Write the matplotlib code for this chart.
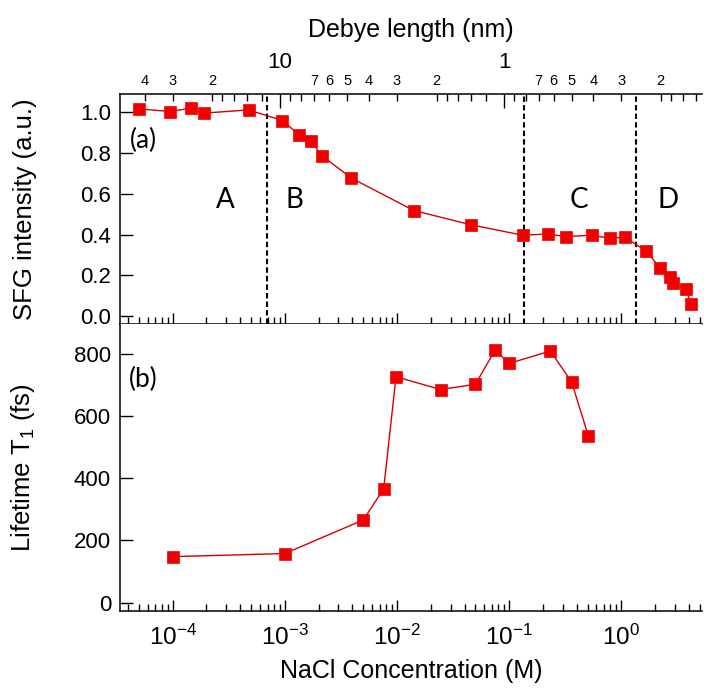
import numpy as np
import matplotlib
matplotlib.use('Agg')
import matplotlib.pyplot as plt
from matplotlib import ticker
from matplotlib.transforms import blended_transform_factory

plt.rcParams['font.family'] = ['Liberation Sans', 'DejaVu Sans']
plt.rcParams['mathtext.fontset'] = 'custom'
plt.rcParams['mathtext.rm'] = 'Liberation Sans'
plt.rcParams['mathtext.it'] = 'Liberation Sans:italic'
plt.rcParams['mathtext.default'] = 'regular'

# (a) SFG intensity vs NaCl concentration (M)
conc_sfg = [5.0e-5, 9.5e-5, 1.46e-4, 1.89e-4, 4.75e-4, 9.5e-4, 1.34e-3, 1.71e-3,
            2.14e-3, 3.92e-3, 0.0141, 0.0457, 0.132, 0.221, 0.321, 0.545, 0.793,
            1.08, 1.66, 2.21, 2.72, 2.87, 3.78, 4.16]
sfg = [1.016, 1.003, 1.020, 0.995, 1.011, 0.959, 0.889, 0.860, 0.786, 0.677,
       0.518, 0.448, 0.397, 0.403, 0.390, 0.397, 0.382, 0.387, 0.320, 0.238,
       0.191, 0.162, 0.134, 0.059]

# (b) vibrational lifetime T1 (fs)
conc_t1 = [1e-4, 1e-3, 5e-3, 7.6e-3, 9.8e-3, 0.0245, 0.05, 0.075, 0.1, 0.233, 0.36, 0.51]
t1 = [148, 158, 266, 366, 727, 686, 703, 813, 770, 810, 711, 535]

# regions A-D
region_bounds = [6.9e-4, 0.1355, 1.36]
region_names = ['A', 'B', 'C', 'D']
region_label_conc = [2.97e-4, 1.21e-3, 0.42, 2.61]

# top axis: Debye length (nm)
debye_major = [10, 1]
debye_major_labels = ['10', '1']
debye_minor = [40, 30, 20, 18, 16, 14, 12, 9, 8, 7, 6, 5, 4, 3, 2,
               1.8, 1.6, 1.4, 1.2, 0.9, 0.8, 0.7, 0.6, 0.5, 0.4, 0.3, 0.2,
               0.18, 0.16, 0.14]
debye_minor_labels = ['4', '3', '2', '', '', '', '', '', '', '7', '6', '5', '4', '3', '2',
                      '', '', '', '', '', '', '7', '6', '5', '4', '3', '2',
                      '', '', '']

XLIM = (10**-4.47, 10**0.72)


def debye_to_conc(lam):
    # 1:1 electrolyte, debye length ~ 0.3 nm / sqrt(c)
    lam = np.asarray(lam, dtype=float)
    return (0.3 / lam) ** 2


fig = plt.figure(figsize=(7.04, 6.88), dpi=100)
ax_a = fig.add_axes([0.1705, 0.5291, 0.8267, 0.3343])
ax_b = fig.add_axes([0.1705, 0.1124, 0.8267, 0.4167])

red_line = '#d40000'
red_fill = '#f20000'

for ax in (ax_a, ax_b):
    ax.set_xscale('log')
    ax.set_xlim(XLIM)
    ax.spines['right'].set_visible(False)
    ax.spines['top'].set_visible(False)
    for s in ax.spines.values():
        s.set_linewidth(1.1)
    ax.xaxis.set_major_locator(ticker.LogLocator(base=10, numticks=20))
    ax.xaxis.set_minor_locator(ticker.LogLocator(base=10, subs=np.arange(2, 10), numticks=20))
    ax.xaxis.set_minor_formatter(ticker.NullFormatter())
    ax.tick_params(which='both', direction='in', top=False, right=False, width=1)
    ax.tick_params(axis='x', which='major', length=8)
    ax.tick_params(axis='x', which='minor', length=5)
    ax.tick_params(axis='y', which='major', length=9, labelsize=16, pad=6.5)
    ax.tick_params(axis='y', which='minor', left=False)

ax_a.tick_params(axis='x', labelbottom=False)
ax_b.tick_params(axis='x', labelsize=17.5, pad=10)

# panel a
ax_a.plot(conc_sfg, sfg, color=red_line, lw=1.0, marker='s', ms=8.3,
          mfc=red_fill, mec=red_fill, mew=0.5, zorder=3)
ax_a.set_ylim(-0.038, 1.089)
ax_a.set_yticks(np.arange(0, 1.01, 0.2))
ax_a.yaxis.set_major_formatter(ticker.FormatStrFormatter('%.1f'))
ax_a.set_ylabel('SFG intensity (a.u.)', fontsize=18.5)
ax_a.yaxis.set_label_coords(-0.143, 0.5)

for c in region_bounds:
    ax_a.axvline(c, color='black', lw=1.5, ls=(0, (2.6, 1.5)), zorder=2)

trans = blended_transform_factory(ax_a.transData, ax_a.transAxes)
for c, name in zip(region_label_conc, region_names):
    ax_a.text(c, 0.539, name, transform=trans, ha='center', va='center',
              fontsize=20, family=['Lato', 'DejaVu Sans'])
ax_a.text(0.0395, 0.80, '(a)', transform=ax_a.transAxes, ha='center', va='center',
          fontsize=19, family=['Lato', 'DejaVu Sans'])

# Debye length axis on top
top = ax_a.twiny()
top.set_xscale('log')
top.set_xlim(XLIM)
top.set_xticks(debye_to_conc(debye_major), labels=debye_major_labels)
top.set_xticks(debye_to_conc(debye_minor), labels=debye_minor_labels, minor=True)
top.tick_params(which='both', direction='in', top=True, bottom=False,
                labeltop=True, labelbottom=False, width=1)
top.tick_params(which='major', length=10, pad=15, labelsize=16)
top.tick_params(which='minor', length=5, pad=4, labelsize=10.5)
for side in ['left', 'right', 'bottom']:
    top.spines[side].set_visible(False)
top.spines['top'].set_linewidth(1.1)
fig.text(0.5838, 0.9564, 'Debye length (nm)', ha='center', va='center', fontsize=18)

# panel b
ax_b.plot(conc_t1, t1, color=red_line, lw=1.0, marker='s', ms=8.3,
          mfc=red_fill, mec=red_fill, mew=0.5, zorder=3)
ax_b.set_ylim(-26, 897)
ax_b.set_yticks([0, 200, 400, 600, 800])
ax_b.set_ylabel('Lifetime T$_1$ (fs)', fontsize=18.5)
ax_b.yaxis.set_label_coords(-0.143, 0.5)
ax_b.set_xlabel('NaCl Concentration (M)', fontsize=18)
ax_b.xaxis.set_label_coords(0.5, -0.167)
ax_b.text(0.0395, 0.808, '(b)', transform=ax_b.transAxes, ha='center', va='center',
          fontsize=19, family=['Lato', 'DejaVu Sans'])

fig.savefig('out.png', dpi=100)
